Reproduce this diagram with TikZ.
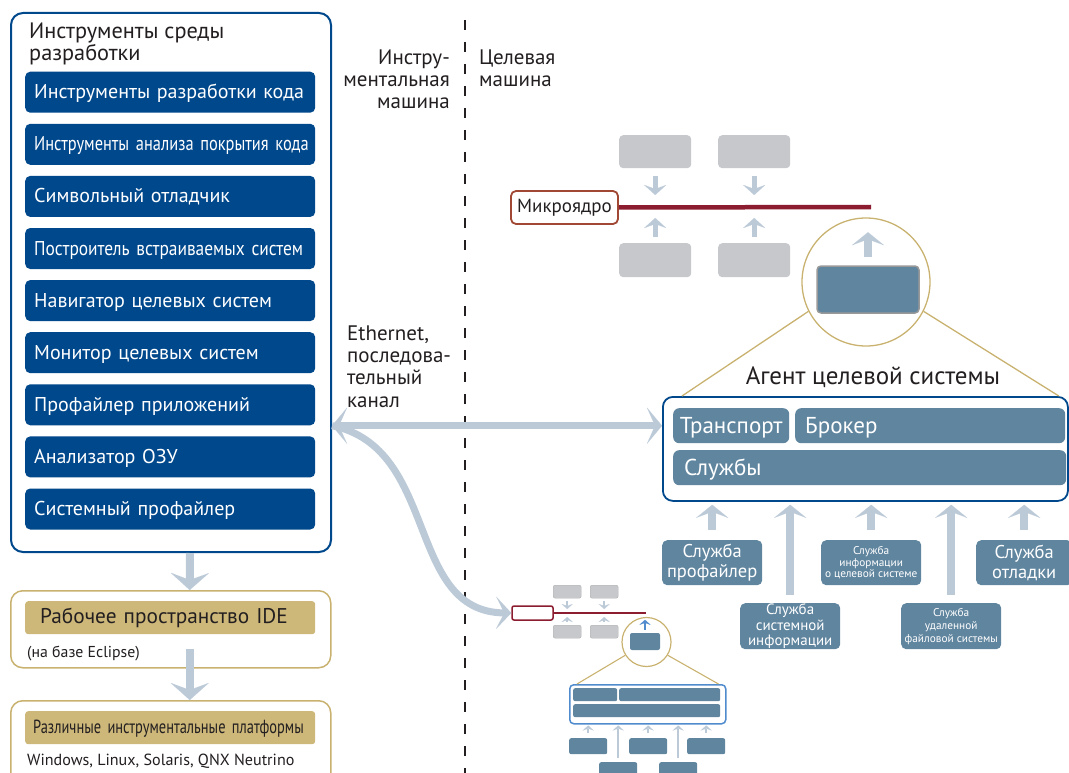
\documentclass[tikz,border=0pt]{standalone}
\usepackage{fontspec}
\setmainfont{PT Sans}
\newfontfamily\narrowA[FakeStretch=0.82]{PT Sans}
\newfontfamily\narrowB[FakeStretch=0.87]{PT Sans}
\newfontfamily\narrowC[FakeStretch=0.76]{PT Sans}
\usetikzlibrary{arrows.meta,calc}

\definecolor{ideblue}{RGB}{0,72,140}
\definecolor{steel}{RGB}{96,133,159}
\definecolor{pale}{RGB}{188,202,216}
\definecolor{tanline}{RGB}{201,178,112}
\definecolor{tanfill}{RGB}{205,184,122}
\definecolor{kernel}{RGB}{140,28,48}
\definecolor{kernelbox}{RGB}{160,72,52}
\definecolor{boxgray}{RGB}{198,200,204}
\definecolor{ink}{RGB}{35,31,32}
\definecolor{smallblue}{RGB}{80,140,205}

% first line of a multi-line label: fixes the height of the first line
\newcommand\lineone{\rule{0pt}{20pt}}

\begin{document}
\begin{tikzpicture}[x=1pt,y=-1pt,
  every node/.style={inner sep=0pt, text=ink},
  toolbox/.style={fill=ideblue, rounded corners=5pt, text=white, anchor=north west,
    inner xsep=9pt, text width=272pt, align=left, minimum height=41pt, text height=14pt,
    text depth=1pt, font=\fontsize{20}{22}\selectfont},
  panel/.style={draw=#1, fill=white, anchor=north west, rounded corners=12pt},
  tanbar/.style={fill=tanfill, rounded corners=3pt, anchor=north west, inner xsep=#1,
    align=left, minimum height=33pt, text height=13pt, text depth=1pt},
  graybox/.style={fill=boxgray, rounded corners=4pt, anchor=north west},
  agentbar/.style={fill=steel, rounded corners=6pt, anchor=north west, text=white,
    minimum height=35pt, text height=16pt, text depth=1pt, font=\fontsize{23}{24}\selectfont},
  svcbox/.style={fill=steel, rounded corners=5pt, anchor=north west, text=white,
    align=center, minimum width=100pt},
  bigdown/.style={draw=pale, line width=8pt, -{Stealth[length=17pt,width=38pt,inset=7pt,line width=0.01pt]}},
  svcup/.style={draw=pale, line width=8pt, -{Stealth[length=13pt,width=32pt,inset=6pt,line width=0.01pt]}},
  link/.style={draw=pale, line width=7pt,
    {Stealth[length=15pt,width=36pt,inset=8pt,line width=0.01pt]}-{Stealth[length=15pt,width=36pt,inset=8pt,line width=0.01pt]}},
  curvelink/.style={draw=pale, line width=7pt, -{Stealth[length=15pt,width=32pt,inset=8pt,line width=0.01pt]}},
  kernarrow/.style={draw=pale, line width=5pt, -{Stealth[length=10pt,width=22pt,inset=4pt,line width=0.01pt]}},
  tinyarrow/.style={draw=#1, line width=2.5pt, -{Stealth[length=5pt,width=11pt,inset=2pt,line width=0.01pt]}},
  tinyarrow/.default=pale,
  zoomline/.style={draw=tanline, line width=1.3pt},
]
\useasboundingbox (0,0) rectangle (1069,773);

% ---------- host side: development tools ----------
\node[panel=ideblue, line width=2pt, minimum width=320pt, minimum height=539pt] (devenv) at (10,12) {};
\node[anchor=north west, align=left, font=\fontsize{22.3}{18.5}\selectfont] (devtitle) at (29,18.5)
  {\lineone Инструменты среды\\разработки};

\foreach \i/\txt in {
  1/{Инструменты разработки кода},
  2/{\narrowA Инструменты анализа покрытия кода},
  3/{Символьный отладчик},
  4/{\narrowB Построитель встраиваемых систем},
  5/{Навигатор целевых систем},
  6/{Монитор целевых систем},
  7/{Профайлер приложений},
  8/{Анализатор ОЗУ},
  9/{Системный профайлер}}
  \node[toolbox] (tool\i) at (25,{71.5+52.1*(\i-1)}) {\mbox{\txt}};

% IDE workspace
\node[panel=tanline, line width=1.5pt, minimum width=320pt, minimum height=77pt] (ide) at (10,590) {};
\node[tanbar=15pt, text width=260pt, font=\fontsize{21.3}{22}\selectfont] (idebar) at (25,601) {\mbox{Рабочее пространство IDE}};
\node[anchor=north west, font=\fontsize{15.8}{18}\selectfont] (idenote) at (27,637) {\lineone(на базе Eclipse)};

% host platforms
\node[panel=tanline, line width=1.5pt, minimum width=320pt, minimum height=90pt] (hosts) at (10,700) {};
\node[tanbar=8pt, text width=274pt, font=\fontsize{19}{22}\selectfont] (hostbar) at (25,711) {\mbox{\narrowC Различные инструментальные платформы}};
\node[anchor=north west, font=\fontsize{16.1}{18}\selectfont] (hostnote) at (27,745) {\lineone Windows, Linux, Solaris, QNX Neutrino};

\draw[bigdown] ($(devenv.south)+(19,0)$) -- ($(ide.north)+(19,0)$);
\draw[bigdown] ($(ide.south)+(19,-20)$) -- ($(hosts.north)+(19,0)$);

% ---------- boundary between host and target ----------
\draw[ink, line width=2.2pt, dash pattern=on 10pt off 12pt] (465,20) -- (465,773);
\node[anchor=north east, align=right, font=\fontsize{21}{22}\selectfont] (hostlabel) at (450,44)
  {\lineone Инстру-\\ментальная\\машина};
\node[anchor=north west, align=left, font=\fontsize{21}{22}\selectfont] (targetlabel) at (479,44)
  {\lineone Целевая\\машина};
\node[anchor=north west, align=left, font=\fontsize{21}{22.3}\selectfont] (linklabel) at (347,320)
  {\lineone Ethernet,\\последова-\\тельный\\канал};

% ---------- target side: microkernel ----------
\node[graybox, minimum width=72pt, minimum height=33pt] (g1) at (619,135) {};
\node[graybox, minimum width=72pt, minimum height=33pt] (g2) at (718,135) {};
\node[graybox, minimum width=72pt, minimum height=34pt] (g3) at (619,243) {};
\node[graybox, minimum width=72pt, minimum height=34pt] (g4) at (718,243) {};
\node[draw=kernelbox, line width=1.8pt, rounded corners=5pt, fill=white,
  minimum width=107pt, minimum height=33pt, font=\fontsize{19}{20}\selectfont] (mk) at (564.5,207.5) {Микроядро};
\coordinate (kend) at (871,207);
\draw[kernel, line width=4.5pt] (mk.east) -- (kend);
\foreach \g in {g1,g2}
  \draw[kernarrow, shorten <=8pt, shorten >=12pt] (\g.south) -- (\g.south |- kend);
\foreach \g in {g3,g4}
  \draw[kernarrow, shorten <=6pt, shorten >=11pt] (\g.north) -- (\g.north |- kend);

% magnified process
\node[circle, draw=tanline, line width=1.3pt, minimum size=128pt] (zoom) at (866,282) {};
\node[fill=steel, draw=black!40, line width=1.5pt, rounded corners=4pt, minimum width=102pt,
  minimum height=47pt] (zb) at (868,289.5) {};
\draw[svcup] ($(zb.north)+(0,-8)$) -- ($(zb.north)+(0,-33)$);

% target agent
\node[panel=ideblue, line width=1.8pt, rounded corners=10pt, minimum width=405pt, minimum height=104pt] (agent) at (662,396) {};
\node[font=\fontsize{25}{25}\selectfont] (agentlabel) at (873,377) {Агент целевой системы};
\draw[zoomline] (zoom.207) -- ($(agent.north west)+(20,0)$);
\draw[zoomline] (zoom.333) -- ($(agent.north east)+(-10,0)$);
\node[agentbar, minimum width=116pt] (transport) at (673,408) {Транспорт};
\node[agentbar, minimum width=269pt, text width=250pt, inner xsep=10pt] (broker) at (795,408) {Брокер};
\node[agentbar, minimum width=391pt, text width=371pt, inner xsep=11pt] (services) at (673,450) {Службы};

\draw[link] (devenv.east |- transport) -- (agent.west |- transport);

% services
\node[svcbox, minimum height=45pt, font=\fontsize{18.5}{20}\selectfont] (svcprof) at (662,540) {Служба\\профайлер};
\node[svcbox, minimum height=45pt, font=\fontsize{11.3}{11.5}\selectfont] (svcinfo) at (821,540) {Служба\\информации\\о целевой системе};
\node[svcbox, minimum height=45pt, minimum width=96pt, font=\fontsize{18.5}{20}\selectfont] (svcdebug) at (976,540) {Служба\\отладки};
\node[svcbox, minimum height=46pt, font=\fontsize{15}{15.5}\selectfont] (svcsys) at (740,603) {Служба\\системной\\информации};
\node[svcbox, minimum height=46pt, font=\fontsize{11.3}{13}\selectfont] (svcfile) at (901,603) {Служба\\удаленной\\файловой системы};
\foreach \s in {svcprof,svcinfo,svcdebug}
  \draw[svcup, shorten <=10pt, shorten >=3pt] (\s.north) -- (\s.north |- agent.south);
\foreach \s in {svcsys,svcfile}
  \draw[svcup, shorten <=8pt, shorten >=3pt] (\s.north) -- (\s.north |- agent.south);

% ---------- reduced copy of the target picture ----------
\node[draw=kernel, line width=1.5pt, rounded corners=2pt, fill=white, minimum width=41pt, minimum height=14pt] (smk) at (532.5,613) {};
\coordinate (send) at (646,613);
\draw[kernel, line width=2pt] (smk.east) -- (send);
\node[graybox, draw=black!30, rounded corners=2pt, minimum width=28pt, minimum height=13pt] (sg1) at (553,585) {};
\node[graybox, draw=black!30, rounded corners=2pt, minimum width=28pt, minimum height=13pt] (sg2) at (590,585) {};
\node[graybox, draw=black!30, rounded corners=2pt, minimum width=28pt, minimum height=13pt] (sg3) at (553,625) {};
\node[graybox, draw=black!30, rounded corners=2pt, minimum width=28pt, minimum height=13pt] (sg4) at (590,625) {};
\foreach \g in {sg1,sg2}
  \draw[tinyarrow, line width=1.8pt, shorten <=3pt, shorten >=4pt] (\g.south) -- (\g.south |- send);
\foreach \g in {sg3,sg4}
  \draw[tinyarrow, line width=1.8pt, shorten <=3pt, shorten >=4pt] (\g.north) -- (\g.north |- send);

\node[circle, draw=tanline, line width=1.2pt, minimum size=49pt] (szoom) at (646.5,642) {};
\node[fill=steel, rounded corners=2pt, minimum width=30pt, minimum height=17pt] (szb) at (645,641.5) {};
\draw[tinyarrow=smallblue] ($(szb.north)+(0,-3)$) -- ($(szb.north)+(0,-13)$);

\node[draw=smallblue, line width=1.5pt, fill=white, rounded corners=4pt, anchor=north west,
  minimum width=156pt, minimum height=39pt] (sagent) at (569,684) {};
\draw[zoomline, line width=1.1pt] (szoom.212) -- ($(sagent.north west)+(8,0)$);
\draw[zoomline, line width=1.1pt] (szoom.328) -- ($(sagent.north east)+(-8,0)$);
\node[fill=steel, rounded corners=2pt, anchor=north west, minimum width=44pt, minimum height=13pt] (stransport) at (573,688) {};
\node[fill=steel, rounded corners=2pt, anchor=north west, minimum width=101pt, minimum height=13pt] (sbroker) at (619,688) {};
\node[fill=steel, rounded corners=2pt, anchor=north west, minimum width=147pt, minimum height=13pt] (sservices) at (573,704) {};

\node[fill=steel, rounded corners=2pt, anchor=north west, minimum width=38pt, minimum height=16pt] (ss1) at (569,738) {};
\node[fill=steel, rounded corners=2pt, anchor=north west, minimum width=38pt, minimum height=16pt] (ss2) at (629,738) {};
\node[fill=steel, rounded corners=2pt, anchor=north west, minimum width=38pt, minimum height=16pt] (ss3) at (687,738) {};
\node[fill=steel, rounded corners=2pt, anchor=north west, minimum width=38pt, minimum height=16pt] (ss4) at (599,762) {};
\node[fill=steel, rounded corners=2pt, anchor=north west, minimum width=38pt, minimum height=16pt] (ss5) at (659,762) {};
\foreach \s in {ss1,ss2,ss3}
  \draw[tinyarrow, shorten <=5pt, shorten >=1pt] (\s.north) -- (\s.north |- sagent.south);
\foreach \s in {ss4,ss5}
  \draw[tinyarrow, shorten <=4pt, shorten >=1pt] (\s.north) -- (\s.north |- sagent.south);

% channel into the reduced target
\draw[curvelink] (devenv.east |- transport) .. controls (440,448) and (405,612) .. (smk.west);
\end{tikzpicture}
\end{document}
